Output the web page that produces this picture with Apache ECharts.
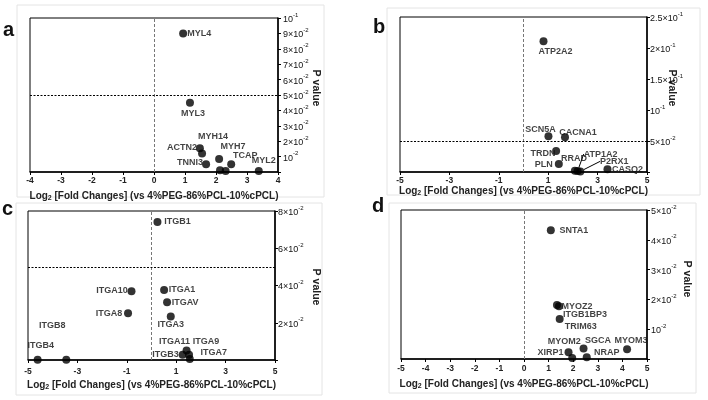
<!DOCTYPE html>
<html><head><meta charset="utf-8">
<script src="https://cdn.jsdelivr.net/npm/echarts@6/dist/echarts.min.js"></script>
<style>html,body{margin:0;padding:0;background:#fff}#c{width:708px;height:400px}</style>
</head><body><div id="c"></div>
<script>
// ---- Panel a ----
const namesA = ['MYL4','MYL3','ACTN2','MYH14','TNNI3','MYH7','','','TCAP','MYL2'];
const xA = [0.94, 1.16, 1.48, 1.55, 1.68, 2.10, 2.13, 2.31, 2.49, 3.38];
const yA = [0.090, 0.045, 0.0155, 0.012, 0.005, 0.0085, 0.0012, 0.0006, 0.005, 0.0006];
const yTicksA = ['', '10^-2','2×10^-2','3×10^-2','4×10^-2','5×10^-2','6×10^-2','7×10^-2','8×10^-2','9×10^-2','10^-1'];
const hLineA = 0.05;
// ---- Panel b ----
const namesB = ['ATP2A2','SCN5A','CACNA1','TRDN','PLN','RRAD','ATP1A2','P2RX1','CASQ2'];
const xB = [0.81, 1.01, 1.68, 1.32, 1.43, 2.08, 2.19, 2.30, 3.40];
const yB = [0.211, 0.0575, 0.056, 0.034, 0.013, 0.002, 0.0015, 0.001, 0.0045];
const yTicksB = ['', '5×10^-2', '10^-1', '1.5×10^-1', '2×10^-1', '2.5×10^-1'];
const hLineB = 0.049;
// ---- Panel c ----
const namesC = ['ITGB1','ITGA10','ITGA1','ITGAV','ITGA8','ITGA3','ITGA11','ITGB3','ITGA9','ITGA7','ITGB4','ITGB8'];
const xC = [0.24, -0.81, 0.51, 0.63, -0.95, 0.78, 1.42, 1.26, 1.52, 1.55, -4.61, -3.45];
const yC = [0.0741, 0.0369, 0.0376, 0.031, 0.0251, 0.0233, 0.0051, 0.0028, 0.0028, 0.0005, 0.0002, 0.0002];
const yTicksC = ['', '2×10^-2', '4×10^-2', '6×10^-2', '8×10^-2'];
const hLineC = 0.0536;
// ---- Panel d ----
const namesD = ['SNTA1','MYOZ2','ITGB1BP3','TRIM63','XIRP1','MYOM2','SGCA','NRAP','MYOM3'];
const xD = [1.09, 1.34, 1.42, 1.45, 1.81, 1.96, 2.42, 2.55, 4.19];
const yD = [0.0432, 0.0181, 0.0177, 0.0134, 0.0023, 0.0003, 0.0035, 0.0006, 0.0033];
const yTicksD = ['', '10^-2', '2×10^-2', '3×10^-2', '4×10^-2', '5×10^-2'];
const vLine = 0;
const xTitle = 'Log{sub|2} [Fold Changes] (vs 4%PEG-86%PCL-10%cPCL)';
const yTitle = 'P value';
const panelLetters = ['a','b','c','d'];

// label placement (pixel offsets of label centre from point) — styling only
const offA = [[16,0],[3,11],[-18,-1],[11,-17],[-16,-2],[14,-12],[0,0],[0,0],[14,-9],[5,-11]];
const offB = [[12,10],[-8,-7],[13,-5],[-13,3],[-15,1],[-1,-12],[23,-17],[34,-10],[20,0]];
const offC = [[20,0],[-19.5,-1],[18,0],[18,0],[-19,0],[0,8],[-12,-9],[-17,0],[17,-13],[24,-7],[3,-14],[-14,-34]];
const offD = [[23,0],[20,1],[26,8],[21,7],[-18,0],[-8,-17],[14.5,-8],[20,-5],[4,-9]];
const leaderB = ['ATP1A2','P2RX1'];

const grids = [
  {left:30, top:18, width:248, height:154},
  {left:400, top:17, width:247, height:155},
  {left:28, top:211, width:247, height:149},
  {left:401, top:210, width:246, height:149}
];
const yTitlePos = [[316,88],[672,88],[316,287],[687,279]];
const letterPos = [[3,20],[373,17],[2,199],[372,196]];
const FONT = 'Arial, "Liberation Sans", sans-serif';

function supText(s){
  const i = s.indexOf('^');
  if (i < 0) return s ? '{b|' + s + '}' : '';
  return '{b|' + s.slice(0,i) + '}{s|' + s.slice(i+1) + '}';
}
const yRich = {
  b:{fontSize:9, fontFamily:FONT, color:'#111', verticalAlign:'bottom', lineHeight:12},
  s:{fontSize:6, fontFamily:FONT, color:'#111', verticalAlign:'top', lineHeight:12, padding:[0,0,4,0]}
};

function xAx(gi, interval, margin, gap){
  return {
    gridIndex:gi, type:'value', min:-5 + (gi===0?1:0), max:5 - (gi===0?1:0), interval:interval,
    axisLine:{show:true, onZero:false, lineStyle:{color:'#000', width:1.5}},
    axisTick:{show:true, length:3, lineStyle:{color:'#000'}},
    axisLabel:{fontSize:8.5, fontWeight:'bold', color:'#222', fontFamily:FONT, margin:margin},
    splitLine:{show:false},
    name:xTitle, nameLocation:'middle', nameGap:gap,
    nameTextStyle:{fontSize:10, fontWeight:'bold', color:'#222', fontFamily:FONT,
      rich:{sub:{fontSize:7, fontWeight:'bold', fontFamily:FONT, color:'#222', verticalAlign:'bottom', padding:[5,0,0,0]}}}
  };
}
function yAx(gi, max, interval, ticks, margin){
  return {
    gridIndex:gi, type:'value', position:'right', min:0, max:max, interval:interval,
    axisLine:{show:true, onZero:false, lineStyle:{color:'#000', width:1.5}},
    axisTick:{show:true, length:3, lineStyle:{color:'#000'}},
    axisLabel:{margin:margin, formatter:function(v){ return supText(ticks[Math.round(v/interval)] || ''); }, rich:yRich},
    splitLine:{show:false}
  };
}
function ser(gi, names, xs, ys, offs, hLine, leaders){
  const data = xs.map(function(x,i){
    const item = {value:[x, ys[i]], name:names[i]};
    if (leaders && leaders.indexOf(names[i]) >= 0) item.labelLine = {show:true, lineStyle:{color:'#000', width:1}};
    return item;
  });
  const ml = [{xAxis:vLine, lineStyle:{type:[3,2], color:'#777', width:1}}];
  if (hLine !== null) ml.push({yAxis:hLine, lineStyle:{type:[2,1.5], color:'#000', width:1.2}});
  return {
    type:'scatter', xAxisIndex:gi, yAxisIndex:gi, data:data, clip:false,
    symbolSize:8, itemStyle:{color:'#000'},
    label:{show:true, position:'inside', formatter:'{b}', fontSize:9, fontWeight:'bold', color:'#111', fontFamily:FONT},
    labelLine:{show:false},
    labelLayout:function(p){ const o = offs[p.dataIndex]; return {dx:o[0], dy:o[1]}; },
    markLine:{silent:true, symbol:'none', label:{show:false}, data:ml, animation:false},
    animation:false, z:3
  };
}

const graphics = [
  {type:'rect', shape:{x:17,y:5,width:307,height:192}, style:{fill:'none', stroke:'#e4e4e4', lineWidth:1}, silent:true, z:-1},
  {type:'rect', shape:{x:387,y:8,width:313,height:187}, style:{fill:'none', stroke:'#e4e4e4', lineWidth:1}, silent:true, z:-1},
  {type:'rect', shape:{x:16,y:203,width:306,height:192}, style:{fill:'none', stroke:'#e4e4e4', lineWidth:1}, silent:true, z:-1},
  {type:'rect', shape:{x:389,y:203,width:307,height:190}, style:{fill:'none', stroke:'#e4e4e4', lineWidth:1}, silent:true, z:-1}
];
panelLetters.forEach(function(l,i){
  graphics.push({type:'text', x:letterPos[i][0], y:letterPos[i][1], style:{text:l, fontSize:20, fontWeight:'bold', fill:'#111', fontFamily:FONT}});
  graphics.push({type:'text', x:yTitlePos[i][0], y:yTitlePos[i][1], rotation:-Math.PI/2,
    style:{text:yTitle, fontSize:10.5, fontWeight:'bold', fill:'#222', fontFamily:FONT, align:'center', verticalAlign:'middle'}});
});

const chart = echarts.init(document.getElementById('c'), null, {renderer:'canvas'});
chart.setOption({
  backgroundColor:'#fff',
  animation:false,
  grid: grids.map(function(g){ return Object.assign({show:true, borderColor:'#000', borderWidth:1, backgroundColor:'transparent'}, g); }),
  xAxis:[xAx(0,1,4,18), xAx(1,2,4,11), xAx(2,2,7,19), xAx(3,1,5,19)],
  yAxis:[yAx(0,0.1,0.01,yTicksA,5), yAx(1,0.25,0.05,yTicksB,3), yAx(2,0.08,0.02,yTicksC,3), yAx(3,0.05,0.01,yTicksD,4)],
  series:[ser(0,namesA,xA,yA,offA,hLineA,null), ser(1,namesB,xB,yB,offB,hLineB,leaderB),
          ser(2,namesC,xC,yC,offC,hLineC,null), ser(3,namesD,xD,yD,offD,null,null)],
  graphic:graphics
});
</script></body></html>
